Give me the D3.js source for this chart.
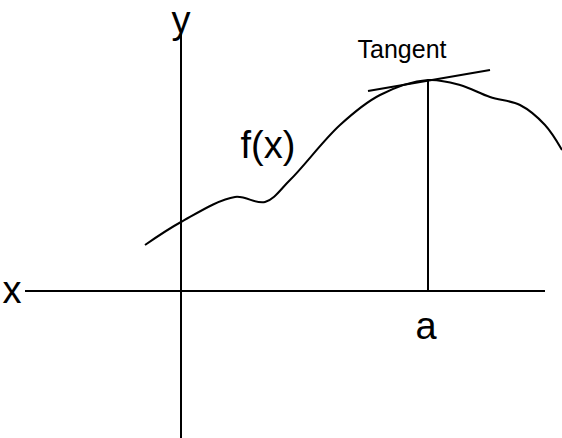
<!DOCTYPE html>
<html><head><meta charset="utf-8">
<script src="https://cdn.jsdelivr.net/npm/d3@7"></script>
<style>body{margin:0;background:#fff}text{font-family:"Liberation Sans",Arial,sans-serif}</style>
</head><body><div id="chart"></div>
<script>
// curve samples in math units (origin at the axes crossing)
var curveX = [-0.72, 0, 1.08, 1.68, 2.18, 3.18, 3.98, 4.94, 5.58, 6.18, 6.78, 7.28, 7.62];
var curveY = [0.92, 1.38, 1.88, 1.78, 2.22, 3.32, 3.92, 4.22, 4.12, 3.88, 3.72, 3.32, 2.82];
var tangentX = [3.74, 6.18];
var tangentY = [4.0, 4.42];
var pointA = 4.94;
var labels = {x: "x", y: "y", a: "a", f: "f(x)", t: "Tangent"};

var width = 562, height = 438;
var svg = d3.select("#chart").append("svg").attr("width", width).attr("height", height);

var x = d3.scaleLinear().domain([-3.62, 7.62]).range([0, width]);
var y = d3.scaleLinear().domain([-2.94, 5.82]).range([height, 0]);

var g = svg.append("g").attr("stroke", "#000").attr("stroke-width", 2).attr("fill", "none");

// axes
g.append("line").attr("x1", x(-3.12)).attr("x2", x(7.28)).attr("y1", y(0)).attr("y2", y(0));
g.append("line").attr("x1", x(0)).attr("x2", x(0)).attr("y1", y(5.22)).attr("y2", y(-2.94));

// curve
var pts = curveX.map(function(d, i) { return [d, curveY[i]]; });
g.append("path")
  .attr("d", d3.line().x(d => x(d[0])).y(d => y(d[1])).curve(d3.curveCatmullRom)(pts));

// tangent and vertical at a
g.append("line").attr("x1", x(tangentX[0])).attr("y1", y(tangentY[0]))
  .attr("x2", x(tangentX[1])).attr("y2", y(tangentY[1]));
g.append("line").attr("x1", x(pointA)).attr("x2", x(pointA)).attr("y1", y(4.22)).attr("y2", y(0));

// labels
function label(t, px, py, size) {
  svg.append("text").attr("x", px).attr("y", py).attr("font-size", size)
    .attr("text-anchor", "middle").text(t);
}
label(labels.x, x(-3.38), y(0) + 12, 38);
label(labels.y, x(0), 33, 38);
label(labels.a, x(pointA) - 2, y(0) + 48, 38);
label(labels.f, x(1.74), 158, 38);
label(labels.t, x(4.42), 58, 25);
</script></body></html>
